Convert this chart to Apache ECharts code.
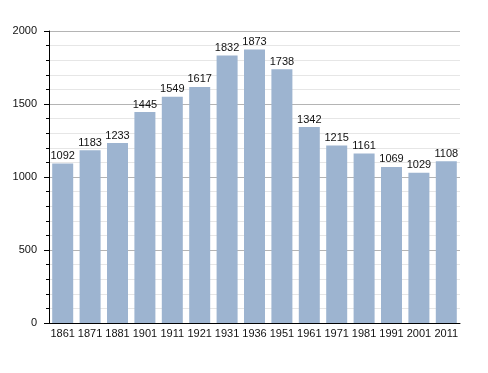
<!DOCTYPE html>
<html><head><meta charset="utf-8">
<script src="https://cdn.jsdelivr.net/npm/echarts@6/dist/echarts.min.js"></script>
<style>html,body{margin:0;padding:0;background:#fff}#c{width:488px;height:373px}</style>
</head><body><div id="c"></div>
<script>
const categories = ['1861','1871','1881','1901','1911','1921','1931','1936','1951','1961','1971','1981','1991','2001','2011'];
const values = [1092,1183,1233,1445,1549,1617,1832,1873,1738,1342,1215,1161,1069,1029,1108];
const yTicks = [0,500,1000,1500,2000];

const chart = echarts.init(document.getElementById('c'));
chart.setOption({
  animation: false,
  grid: {left: 49, right: 28, top: 31, bottom: 50},
  xAxis: {
    type: 'category', data: categories,
    axisLine: {lineStyle: {color: '#000', width: 1}},
    axisTick: {show: false},
    axisLabel: {color: '#111', fontSize: 11, fontFamily: 'Liberation Sans, Arial', margin: 5, interval: 0}
  },
  yAxis: {
    type: 'value', min: yTicks[0], max: yTicks[yTicks.length-1], interval: 500,
    axisLine: {show: true, lineStyle: {color: '#000', width: 1}},
    axisTick: {show: true, length: 5, lineStyle: {color: '#000'}},
    minorTick: {show: true, splitNumber: 5, length: 3, lineStyle: {color: '#000'}},
    splitLine: {show: true, lineStyle: {color: '#b4b4b4', width: 1}},
    minorSplitLine: {show: true, lineStyle: {color: '#e6e6e6', width: 1}},
    axisLabel: {color: '#111', fontSize: 11, fontFamily: 'Liberation Sans, Arial', margin: 12, formatter: v => String(v)}
  },
  series: [{
    type: 'bar', data: values, barWidth: 21,
    itemStyle: {color: '#9db4d0'},
    label: {show: true, position: 'top', distance: 2, color: '#111', fontSize: 11, fontFamily: 'Liberation Sans, Arial'}
  }]
});
</script></body></html>
